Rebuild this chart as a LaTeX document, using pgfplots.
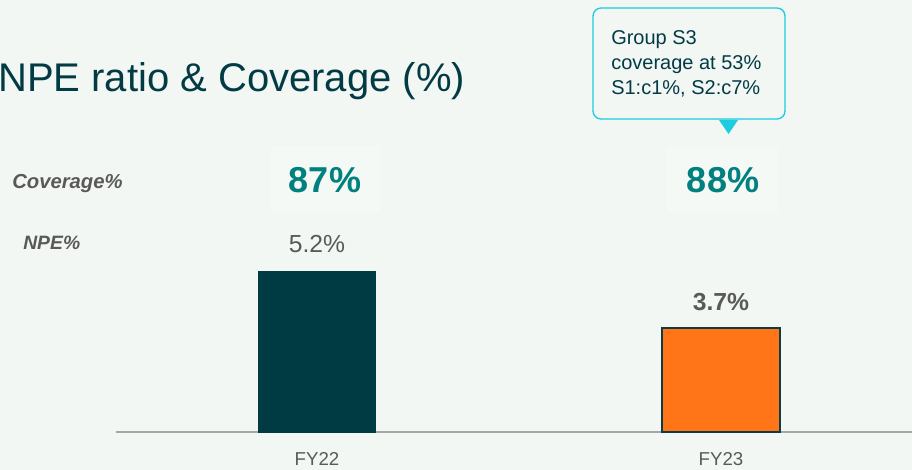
\documentclass[border=0pt]{standalone}
\usepackage{pgfplots}
\pgfplotsset{compat=1.18}
\usepackage{fontspec}
\setmainfont{Liberation Sans}
\definecolor{bg}{HTML}{F2F7F4}
\definecolor{boxbg}{HTML}{F5F9F6}
\definecolor{titlec}{HTML}{033B45}
\definecolor{barA}{HTML}{003A42}
\definecolor{barB}{HTML}{FF7518}
\definecolor{edgeB}{HTML}{0E3C44}
\definecolor{covc}{HTML}{00807F}
\definecolor{graytxt}{HTML}{595959}
\definecolor{cyanc}{HTML}{1FCBE0}
\definecolor{axisc}{HTML}{A6A6A6}
\begin{document}
\begin{tikzpicture}
\fill[bg] (0,0) rectangle (684pt,352.5pt);
\useasboundingbox (0,0) rectangle (684pt,352.5pt);
\begin{scope}[x=0.75pt,y=-0.75pt,shift={(0,-470)}]
% faint boxes behind coverage numbers
\fill[boxbg] (271,146) rectangle (380,212);
\fill[boxbg] (667,147) rectangle (778,212);
\end{scope}
\begin{axis}[
  at={(87pt,28.5pt)}, anchor=south west,
  scale only axis, width=597pt, height=324pt,
  xmin=-0.4975, xmax=1.4728, ymin=0.96, ymax=12.33,
  axis x line=bottom, axis y line=none,
  x axis line style={draw=axisc, line width=1.5pt, -},
  xtick={0,1}, xticklabels={FY22,FY23}, major tick length=0pt,
  xticklabel style={font=\fontsize{14}{16}\selectfont, text=graytxt, yshift=-11.5pt},
  ybar, bar width=0.29, bar shift=0pt,
  clip=false,
  nodes near coords, point meta=explicit symbolic,
]
\addplot[fill=barA, draw=barA, line width=0.5pt,
  every node near coord/.style={anchor=base, inner sep=0pt, yshift=13.5pt,
    font=\fontsize{18.5}{20}\selectfont, text=graytxt}]
  coordinates {(0,5.2) [5.2\%]};
\addplot[fill=barB, draw=edgeB, line width=1.5pt,
  every node near coord/.style={anchor=base, inner sep=0pt, yshift=12.75pt,
    font=\fontsize{18.5}{20}\selectfont\bfseries, text=graytxt}]
  coordinates {(1,3.7) [3.7\%]};
\end{axis}
\begin{scope}[x=0.75pt,y=-0.75pt,shift={(0,-470)}]
% title
\node[anchor=base west, inner sep=0pt, text=titlec, font=\fontsize{30}{34}\selectfont] at (-2,92) {NPE ratio \& Coverage (\%)};
% row labels
\node[anchor=base west, inner sep=0pt, text=graytxt, font=\fontsize{15.2}{17}\selectfont\bfseries\itshape] at (12,189) {Coverage\%};
\node[anchor=base west, inner sep=0pt, text=graytxt, font=\fontsize{14.5}{16}\selectfont\bfseries\itshape] at (23,250) {NPE\%};
% coverage values
\node[anchor=base, inner sep=0pt, text=covc, font=\fontsize{27}{30}\selectfont\bfseries] at (325,193) {87\%};
\node[anchor=base, inner sep=0pt, text=covc, font=\fontsize{27}{30}\selectfont\bfseries] at (723,193) {88\%};
% callout
\draw[cyanc, line width=1pt, fill=bg, rounded corners=6pt] (593,8) rectangle (785,119);
\fill[cyanc] (719,120) -- (738,120) -- (728.5,134) -- cycle;
\node[anchor=base west, inner sep=0pt, text=titlec, font=\fontsize{15}{19}\selectfont] at (611,45) {Group S3};
\node[anchor=base west, inner sep=0pt, text=titlec, font=\fontsize{15}{19}\selectfont] at (611,70) {coverage at 53\%};
\node[anchor=base west, inner sep=0pt, text=titlec, font=\fontsize{15}{19}\selectfont] at (611,95) {S1:c1\%, S2:c7\%};
\end{scope}
\end{tikzpicture}
\end{document}
